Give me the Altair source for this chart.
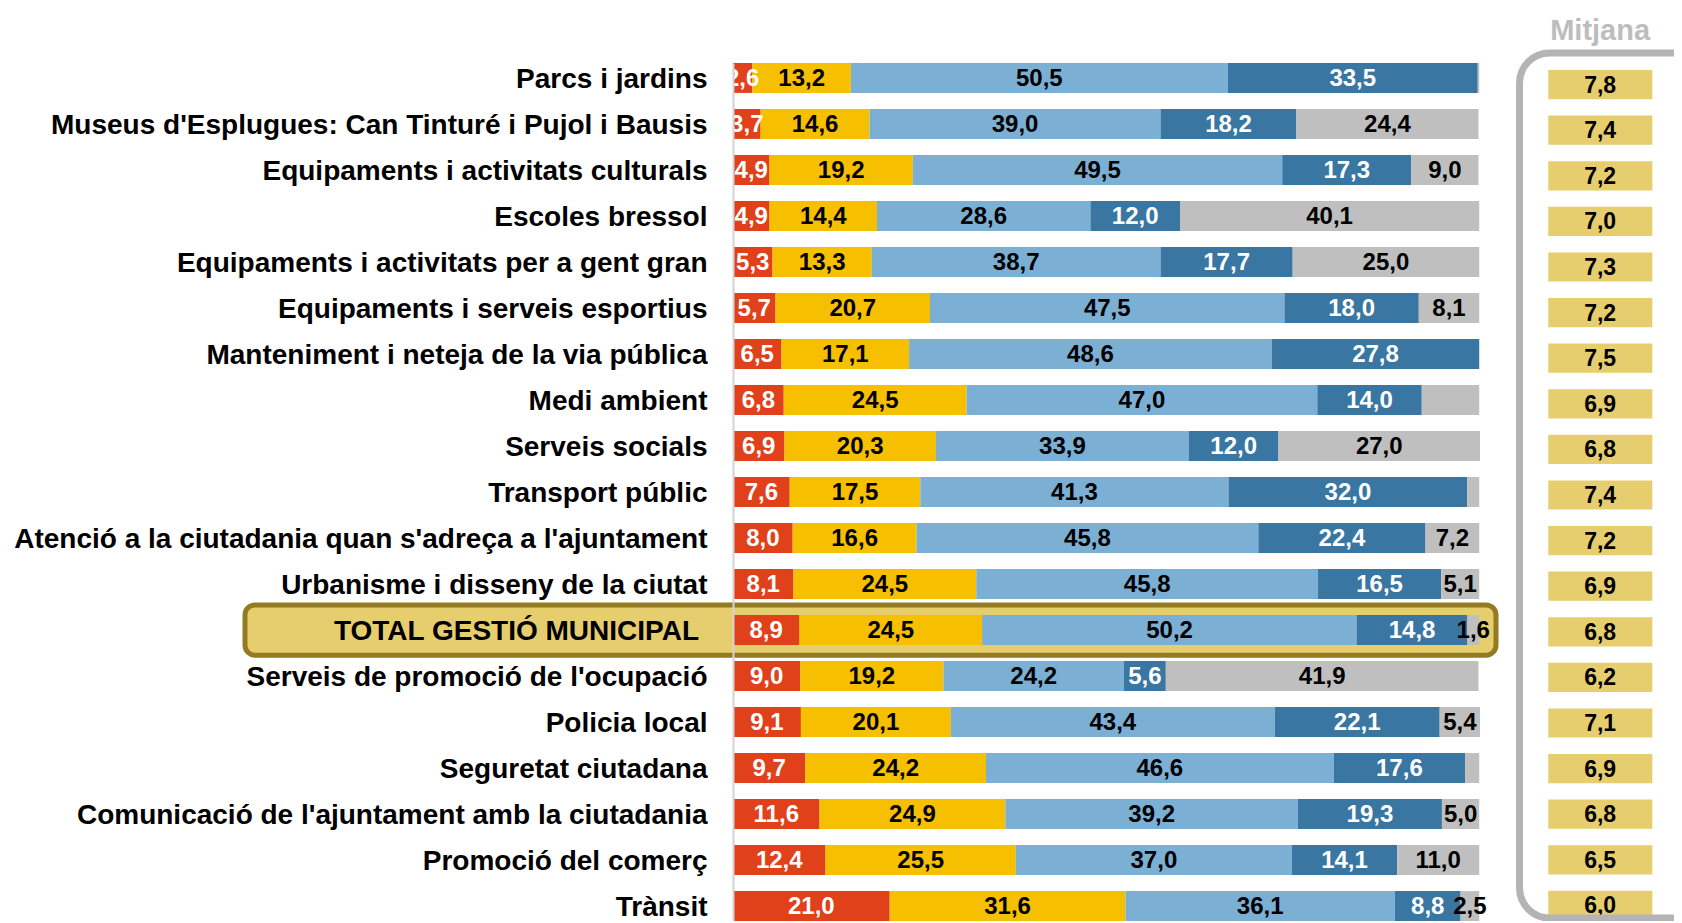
import altair as alt
import pandas as pd

rows = [
    "Parcs i jardins",
    "Museus d'Esplugues: Can Tinturé i Pujol i Bausis",
    "Equipaments i activitats culturals",
    "Escoles bressol",
    "Equipaments i activitats per a gent gran",
    "Equipaments i serveis esportius",
    "Manteniment i neteja de la via pública",
    "Medi ambient",
    "Serveis socials",
    "Transport públic",
    "Atenció a la ciutadania quan s'adreça a l'ajuntament",
    "Urbanisme i disseny de la ciutat",
    "TOTAL GESTIÓ MUNICIPAL",
    "Serveis de promoció de l'ocupació",
    "Policia local",
    "Seguretat ciutadana",
    "Comunicació de l'ajuntament amb la ciutadania",
    "Promoció del comerç",
    "Trànsit",
]
red = [2.6, 3.7, 4.9, 4.9, 5.3, 5.7, 6.5, 6.8, 6.9, 7.6, 8.0, 8.1, 8.9, 9.0, 9.1, 9.7, 11.6, 12.4, 21.0]
yellow = [13.2, 14.6, 19.2, 14.4, 13.3, 20.7, 17.1, 24.5, 20.3, 17.5, 16.6, 24.5, 24.5, 19.2, 20.1, 24.2, 24.9, 25.5, 31.6]
light_blue = [50.5, 39.0, 49.5, 28.6, 38.7, 47.5, 48.6, 47.0, 33.9, 41.3, 45.8, 45.8, 50.2, 24.2, 43.4, 46.6, 39.2, 37.0, 36.1]
dark_blue = [33.5, 18.2, 17.3, 12.0, 17.7, 18.0, 27.8, 14.0, 12.0, 32.0, 22.4, 16.5, 14.8, 5.6, 22.1, 17.6, 19.3, 14.1, 8.8]
gray = [0.2, 24.4, 9.0, 40.1, 25.0, 8.1, 0.0, 7.7, 27.0, 1.6, 7.2, 5.1, 1.6, 41.9, 5.4, 1.9, 5.0, 11.0, 2.5]
gray_shown = [False, True, True, True, True, True, False, False, True, False, True, True, True, True, True, False, True, True, True]
mitjana = [7.8, 7.4, 7.2, 7.0, 7.3, 7.2, 7.5, 6.9, 6.8, 7.4, 7.2, 6.9, 6.8, 6.2, 7.1, 6.9, 6.8, 6.5, 6.0]

TOTAL = "TOTAL GESTIÓ MUNICIPAL"
FONT = "Liberation Sans, Arial, Helvetica, sans-serif"
cat_names = ["c1", "c2", "c3", "c4", "c5"]
cat_colors = ["#E0411A", "#F6BF00", "#7BAFD4", "#3A76A2", "#BFBFBF"]
text_colors = ["white", "black", "black", "white", "black"]


def fmt(v):
    return f"{v:.1f}".replace(".", ",")


series = [red, yellow, light_blue, dark_blue, gray]
recs = []
for i, r in enumerate(rows):
    start = 0.0
    for k, vals in enumerate(series):
        v = vals[i]
        shown = gray_shown[i] if k == 4 else True
        recs.append(dict(row=r, cat=cat_names[k], x0=start, x1=start + v,
                         mid=start + v / 2, label=fmt(v) if shown else "",
                         tc=text_colors[k]))
        start += v
df = pd.DataFrame(recs)
df_m = pd.DataFrame({"row": rows, "m": [fmt(v) for v in mitjana]})
df_total = pd.DataFrame({"row": [TOTAL]})

xscale = alt.Scale(domain=[0, 126.1], nice=False, zero=False)
# bars' row scale
yscale = alt.Scale(domain=rows, paddingInner=0.35, paddingOuter=0)
# "Mitjana" column uses a slightly tighter row spacing, as in the original
mscale = alt.Scale(domain=rows, paddingInner=0.36, paddingOuter=0.088)

is_total = f"datum.value == '{TOTAL}'"
yaxis = alt.Axis(
    title=None, ticks=False, domain=True, domainColor="#D4D4D4", domainWidth=2,
    labelFont=FONT, labelFontWeight="bold", labelColor="black", labelFontSize=28,
    labelExpr=f"{is_total} ? '' : datum.label", labelOffset=2,
    labelPadding=26, labelLimit=900, zindex=1, grid=False,
)


def yenc():
    return alt.Y("row:N", sort=rows, scale=yscale, axis=yaxis)


total_box = alt.Chart(df_total).mark_bar(
    fill="#E6CD6E", stroke="#947B22", strokeWidth=5, cornerRadius=10,
    height={"band": 1.68},
).encode(
    x=alt.value(-488), x2=alt.value(763),
    y=yenc(),
)

bars = alt.Chart(df).mark_bar().encode(
    x=alt.X("x0:Q", scale=xscale, axis=None),
    x2="x1:Q",
    y=yenc(),
    color=alt.Color("cat:N", scale=alt.Scale(domain=cat_names, range=cat_colors), legend=None),
)

total_label = alt.Chart(df_total).mark_text(
    font=FONT, fontSize=28, fontWeight="bold", color="black", align="right",
    baseline="middle", dy=2,
).encode(
    x=alt.value(-34),
    y=yenc(),
    text="row:N",
)

bar_labels = alt.Chart(df).mark_text(
    clip=True, font=FONT, fontSize=24, fontWeight="bold", baseline="middle", dy=1,
).encode(
    x=alt.X("mid:Q", scale=xscale, axis=None),
    y=yenc(),
    text="label:N",
    color=alt.Color("tc:N", scale=None),
)

MX0, MX1, MXC = 109.25, 123.2, 116.2

m_box = alt.Chart(df_m).mark_bar(color="#E6CD6E", yOffset=3).encode(
    x=alt.datum(MX0), x2=alt.datum(MX1),
    y=alt.Y("row:N", sort=rows, scale=mscale, axis=None),
)
m_text = alt.Chart(df_m).mark_text(
    font=FONT, fontSize=23, fontWeight="bold", color="black", baseline="middle", dy=4,
).encode(
    x=alt.datum(MXC),
    y=alt.Y("row:N", sort=rows, scale=mscale, axis=None),
    text="m:N",
)
header = alt.Chart(pd.DataFrame({"t": ["Mitjana"]})).mark_text(
    font=FONT, fontSize=29, fontWeight="bold", color="#BDBDBD", baseline="middle",
).encode(x=alt.datum(MXC), y=alt.value(-32), text="t:N")

frame = alt.Chart(pd.DataFrame({"a": [0]})).mark_rect(
    fillOpacity=0, stroke="#B4B4B4", strokeWidth=7, cornerRadius=30,
).encode(x=alt.datum(105.4), x2=alt.datum(140), y=alt.value(-10), y2=alt.value(855))

main = alt.layer(total_box, bars, total_label, bar_labels)
mcol = alt.layer(m_box, m_text)

chart = alt.layer(main, mcol, header, frame).resolve_scale(y="independent").properties(
    width=941, height=858,
    padding={"left": 725, "top": 55, "right": 0, "bottom": 0},
    autosize=alt.AutoSizeParams(type="none"),
).configure_view(stroke=None)

chart.save("out.html", embed_options={"renderer": "svg", "actions": False})
